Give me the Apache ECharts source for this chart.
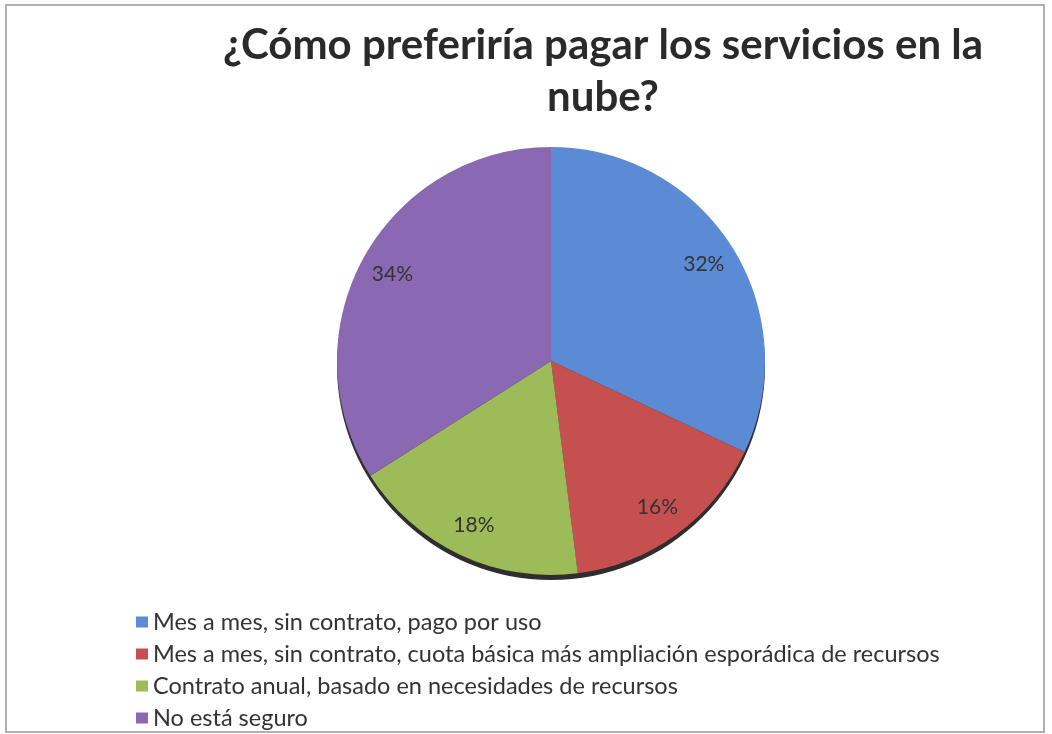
<!DOCTYPE html>
<html>
<head>
<meta charset="utf-8">
<script src="https://cdn.jsdelivr.net/npm/echarts@6/dist/echarts.min.js"></script>
<style>
  body { margin: 0; background: #fff; }
  #chart { width: 1052px; height: 734px; }
</style>
</head>
<body>
<div id="chart"></div>
<script>
// chart data
var titleText = '¿Cómo preferiría pagar los servicios en la\nnube?'
var categories = [
  'Mes a mes, sin contrato, pago por uso',
  'Mes a mes, sin contrato, cuota básica más ampliación esporádica de recursos',
  'Contrato anual, basado en necesidades de recursos',
  'No está seguro'
]
var values = [32, 16, 18, 34]
var colors = ['#5b8bd5', '#c6504f', '#9dbb59', '#8a68b2']

var font = 'Lato, "Open Sans", sans-serif'
var chart = echarts.init(document.getElementById('chart'))

var pieData = categories.map(function (name, i) {
  return { name: name, value: values[i], itemStyle: { color: colors[i] } }
})

var option = {
  animation: false,
  legend: {
    data: categories,
    orient: 'vertical',
    left: 131,
    top: 605,
    height: 129,
    icon: 'rect',
    itemWidth: 12,
    itemHeight: 11,
    itemGap: 8,
    selectedMode: false,
    textStyle: { fontFamily: font, fontSize: 23.5, lineHeight: 23, color: '#333' }
  },
  graphic: [{
    type: 'rect',
    shape: { x: 6, y: 5, width: 1038, height: 727 },
    style: { fill: 'none', stroke: '#b0b0b0', lineWidth: 2 },
    silent: true
  }, {
    type: 'text',
    x: 603,
    y: 19,
    style: {
      text: titleText,
      fill: '#2a2a2a',
      font: 'bold 42px ' + font,
      textAlign: 'center',
      lineHeight: 52
    },
    silent: true
  }],
  series: [{
    // dark edge under the pie (3D rim)
    type: 'pie',
    silent: true,
    center: [551, 366],
    radius: 214,
    startAngle: 90,
    label: { show: false },
    labelLine: { show: false },
    data: [{ value: 1, name: '', itemStyle: { color: '#2e2e2e' } }]
  }, {
    type: 'pie',
    center: [551, 361],
    radius: 214,
    startAngle: 90,
    clockwise: true,
    label: { show: false },
    labelLine: { show: false },
    itemStyle: { borderWidth: 0 },
    data: pieData
  }, {
    // transparent ring used only to place the percent labels
    type: 'pie',
    silent: true,
    center: [551, 361],
    radius: [142, 214],
    startAngle: 90,
    itemStyle: { color: 'rgba(0,0,0,0)' },
    label: {
      show: true,
      position: 'inside',
      formatter: '{c}%',
      fontFamily: font,
      fontSize: 21,
      color: '#333'
    },
    labelLine: { show: false },
    data: categories.map(function (name, i) { return { name: name, value: values[i] } })
  }]
}

chart.setOption(option)
</script>
</body>
</html>
